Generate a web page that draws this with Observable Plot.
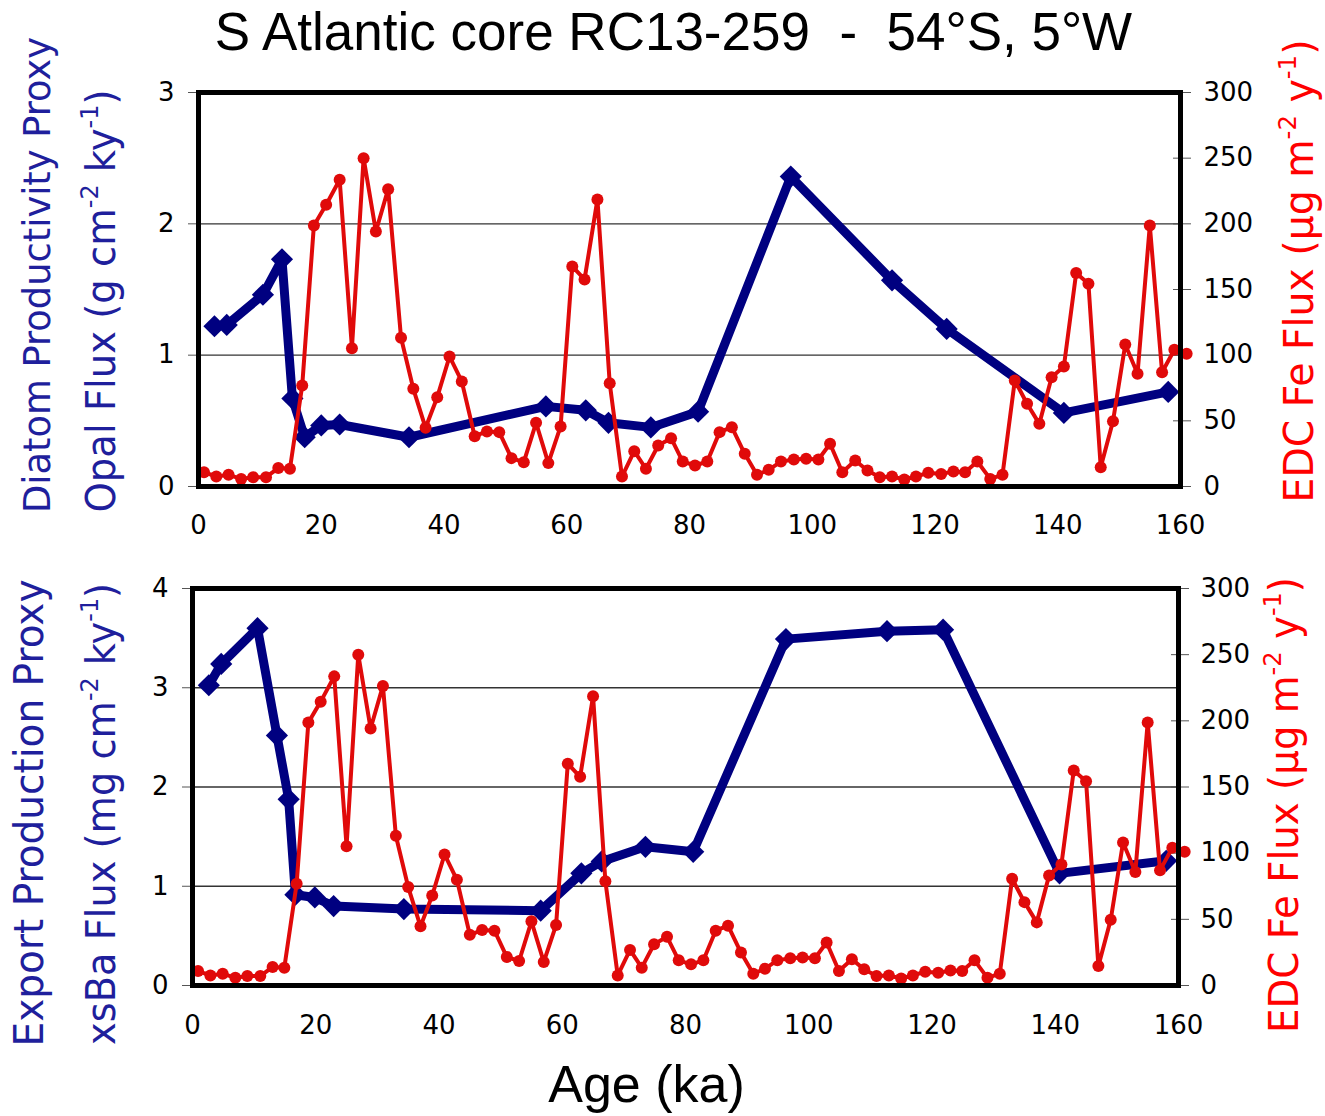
<!DOCTYPE html>
<html>
<head>
<meta charset="utf-8">
<script src="https://cdn.jsdelivr.net/npm/d3@7"></script>
<script src="https://cdn.jsdelivr.net/npm/@observablehq/plot@0.6"></script>
<style>
  html, body { margin: 0; padding: 0; background: white; }
  #page { position: relative; width: 1325px; height: 1116px; overflow: hidden; background: white; }
  .title { position: absolute; left: 22px; top: 5px; width: 1303px; text-align: center; white-space: pre;
           font-family: "Liberation Sans", Arial, sans-serif; font-size: 53px; line-height: 53px; color: #000; }
  .xlabel { position: absolute; left: 0; top: 1058px; width: 1293px; text-align: center;
            font-family: "Liberation Sans", Arial, sans-serif; font-size: 52px; line-height: 52px; color: #000; }
  .panel { position: absolute; left: 0; }
</style>
</head>
<body>
<div id="page">
  <div class="title">S Atlantic core RC13-259  -  54°S, 5°W</div>
  <div id="top" class="panel" style="top:20px"></div>
  <div id="bottom" class="panel" style="top:560px"></div>
  <div class="xlabel">Age (ka)</div>
</div>
<script>
// ---- Data ----
// EDC Fe flux (µg m-2 y-1), same series in both panels
const feAge  = [0.9, 2.9, 4.9, 6.95, 8.9, 11.0, 13.0, 14.9, 16.9, 18.8, 20.8, 23.0, 25.0, 26.9, 28.9, 30.9, 33.0, 35.0, 37.0, 38.9,
                40.9, 42.9, 45.0, 47.0, 49.0, 51.0, 53.0, 55.0, 57.0, 59.0, 60.9, 62.9, 65.0, 67.0, 69.0, 71.0, 72.9, 74.9, 77.0, 78.9,
                80.9, 82.9, 84.9, 86.9, 89.0, 91.0, 92.9, 94.9, 97.0, 99.0, 101.0, 102.9, 104.9, 107.0, 109.0, 111.0, 113.0, 115.0, 116.9, 118.9,
                121.0, 123.0, 124.9, 126.9, 129.0, 131.0, 133.0, 135.0, 137.0, 139.0, 141.0, 143.0, 145.0, 147.0, 149.0, 151.0, 153.0, 155.0, 157.0, 159.0, 161.0];
const feFlux = [10.9, 7.6, 8.9, 5.8, 7.1, 7.1, 14, 13.5, 76.9, 198.8, 214.5, 233.6, 105.3, 250, 194.2, 226.4, 113.2, 74.4, 44.7, 68,
                99, 80, 38.3, 41.9, 41.4, 21.6, 18.5, 48.5, 17.8, 45.7, 167.6, 157.7, 218.6, 78.7, 7.6, 26.9, 13.5, 31.2, 36.8, 19,
                16, 19, 41.4, 45.2, 24.9, 8.9, 12.7, 19, 20.6, 21.1, 20.6, 32.5, 10.9, 19.8, 12.2, 7.1, 7.6, 5.3, 7.6, 10.4,
                9.6, 11.4, 10.9, 19, 5.8, 8.9, 80.7, 63, 47.7, 83.2, 91.4, 162.5, 154.4, 14.7, 49.7, 108.1, 85.8, 198.8, 87, 104.1, 101];
// Opal flux (g cm-2 ky-1)
const opalAge  = [2.6, 4.6, 10.5, 13.6, 15.3, 17.3, 20.0, 23.0, 34.3, 56.6, 63.1, 66.8, 73.7, 81.4, 96.5, 113.0, 121.9, 141.0, 158.0];
const opalFlux = [1.22, 1.23, 1.46, 1.73, 0.67, 0.375, 0.465, 0.472, 0.375, 0.61, 0.58, 0.485, 0.45, 0.57, 2.36, 1.57, 1.20, 0.56, 0.72];
// xsBa flux (mg cm-2 ky-1)
const baAge  = [2.65, 4.66, 10.55, 13.7, 15.6, 16.7, 19.85, 22.9, 34.3, 56.5, 63.1, 66.4, 73.5, 81.25, 96.3, 112.7, 121.8, 140.7, 158.0];
const baFlux = [3.025, 3.24, 3.60, 2.52, 1.876, 0.915, 0.887, 0.80, 0.77, 0.754, 1.13, 1.25, 1.397, 1.347, 3.49, 3.57, 3.585, 1.13, 1.256];
// Tick labels
const xTicks    = [0, 20, 40, 60, 80, 100, 120, 140, 160];
const opalTicks = [0, 1, 2, 3];
const baTicks   = [0, 1, 2, 3, 4];
const feTicks   = [0, 50, 100, 150, 200, 250, 300];

const fe   = feAge.map((a, i) => ({age: a, flux: feFlux[i]}));
const opal = opalAge.map((a, i) => ({age: a, v: opalFlux[i]}));
const ba   = baAge.map((a, i) => ({age: a, v: baFlux[i]}));

const RED = "#e00a0a", NAVY = "#000080", LBLUE = "#1f1f9c";

function panel({height, marginTop, marginBottom, marginLeft, marginRight, yMax, leftTicks, grid, blue, xPad, rPad}) {
  const k = yMax / 300; // Fe -> left-axis units
  return Plot.plot({
    width: 1325, height,
    marginTop, marginBottom, marginLeft, marginRight,
    style: {fontFamily: "'DejaVu Sans', Verdana, sans-serif", fontSize: "26px", background: "transparent", overflow: "visible", color: "black"},
    x: {domain: [0, 160], label: null},
    y: {domain: [0, yMax], label: null},
    marks: [
      Plot.gridY(grid, {stroke: "#333", strokeOpacity: 1, strokeWidth: 1.3}),
      Plot.axisX(xTicks, {tickSize: 0, tickPadding: xPad, label: null, fill: "black", tickFormat: d => String(d)}),
      Plot.axisY(leftTicks, {anchor: "left", tickSize: 10, tickPadding: 14, label: null, stroke: "#555", fill: "black",
        tickFormat: d => String(d)}),
      Plot.axisY(feTicks.map(d => d * k), {anchor: "right", tickSize: 18, dx: -8, tickPadding: rPad, label: null,
        stroke: "#555", fill: "black", tickFormat: d => String(Math.round(d / k))}),
      Plot.line(blue, {x: "age", y: "v", stroke: NAVY, strokeWidth: 9, strokeLinejoin: "miter"}),
      Plot.dot(blue, {x: "age", y: "v", symbol: "diamond2", r: 10, fill: NAVY, stroke: null}),
      Plot.line(fe, {x: "age", y: d => d.flux * k, stroke: RED, strokeWidth: 4}),
      Plot.dot(fe, {x: "age", y: d => d.flux * k, r: 6, fill: RED, stroke: null}),
      Plot.frame({stroke: "black", strokeWidth: 5})
    ]
  });
}

function vlabel(svg, x, y, len, parts, color, size) {
  const t = d3.select(svg).append("text")
    .attr("transform", `translate(${x},${y}) rotate(-90)`)
    .attr("text-anchor", "middle")
    .attr("font-family", "'DejaVu Sans', Verdana, sans-serif")
    .attr("font-size", size)
    .attr("fill", color)
    .attr("textLength", len)
    .attr("lengthAdjust", "spacingAndGlyphs");
  const sh = size * 0.42;
  let raised = false;
  for (const [s, sup] of parts) {
    const ts = t.append("tspan").text(s);
    if (sup && !raised) { ts.attr("dy", -sh).attr("font-size", size * 0.62); raised = true; }
    else if (sup) { ts.attr("font-size", size * 0.62); }
    else if (!sup && raised) { ts.attr("dy", sh); raised = false; }
  }
}

// top panel svg spans page y 20..560
const topSvg = panel({height: 540, marginTop: 72, marginBottom: 74, marginLeft: 198, marginRight: 145, yMax: 3,
  leftTicks: opalTicks, grid: [1, 2], blue: opal, xPad: 29, rPad: 13});
document.getElementById("top").append(topSvg);
vlabel(topSvg, 50, 255, 476, [["Diatom Productivity Proxy", false]], LBLUE, 37);
vlabel(topSvg, 115, 281, 423, [["Opal Flux (g cm", false], ["-2", true], [" ky", false], ["-1", true], [")", false]], LBLUE, 40);
vlabel(topSvg, 1313, 251, 463, [["EDC Fe Flux (µg m", false], ["-2", true], [" y", false], ["-1", true], [")", false]], "#ff0000", 40);

// bottom panel svg spans page y 560..1058
const botSvg = panel({height: 498, marginTop: 28, marginBottom: 73, marginLeft: 192, marginRight: 147, yMax: 4,
  leftTicks: baTicks, grid: [1, 2, 3], blue: ba, xPad: 30, rPad: 12});
document.getElementById("bottom").append(botSvg);
vlabel(botSvg, 43, 253, 467, [["Export Production Proxy", false]], LBLUE, 40);
vlabel(botSvg, 115, 254, 462, [["xsBa Flux (mg cm", false], ["-2", true], [" ky", false], ["-1", true], [")", false]], LBLUE, 40);
vlabel(botSvg, 1298, 245, 456, [["EDC Fe Flux (µg m", false], ["-2", true], [" y", false], ["-1", true], [")", false]], "#ff0000", 40);
</script>
</body>
</html>
